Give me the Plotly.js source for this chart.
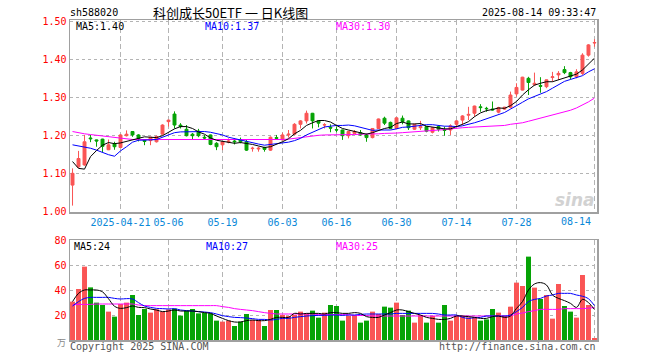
<!DOCTYPE html>
<html>
<head>
<meta charset="utf-8">
<script src="https://cdn.plot.ly/plotly-3.0.1.min.js"></script>
<style>html,body{margin:0;padding:0;background:#fff;}#chart{width:660px;height:360px;}</style>
</head>
<body>
<div id="chart"></div>
<script>
// ---- data ----
const dates = [
 '2025-04-09','2025-04-10','2025-04-11','2025-04-14','2025-04-15','2025-04-16','2025-04-17','2025-04-18',
 '2025-04-21','2025-04-22','2025-04-23','2025-04-24','2025-04-25','2025-04-28','2025-04-29','2025-04-30',
 '2025-05-06','2025-05-07','2025-05-08','2025-05-09','2025-05-12','2025-05-13','2025-05-14','2025-05-15',
 '2025-05-16','2025-05-19','2025-05-20','2025-05-21','2025-05-22','2025-05-23','2025-05-26','2025-05-27',
 '2025-05-28','2025-05-29','2025-05-30','2025-06-03','2025-06-04','2025-06-05','2025-06-06','2025-06-09',
 '2025-06-10','2025-06-11','2025-06-12','2025-06-13','2025-06-16','2025-06-17','2025-06-18','2025-06-19',
 '2025-06-20','2025-06-23','2025-06-24','2025-06-25','2025-06-26','2025-06-27','2025-06-30','2025-07-01',
 '2025-07-02','2025-07-03','2025-07-04','2025-07-07','2025-07-08','2025-07-09','2025-07-10','2025-07-11',
 '2025-07-14','2025-07-15','2025-07-16','2025-07-17','2025-07-18','2025-07-21','2025-07-22','2025-07-23',
 '2025-07-24','2025-07-25','2025-07-28','2025-07-29','2025-07-30','2025-07-31','2025-08-01','2025-08-04',
 '2025-08-05','2025-08-06','2025-08-07','2025-08-08','2025-08-11','2025-08-12','2025-08-13','2025-08-14'];

const openP = [1.070,1.118,1.123,1.194,1.189,1.191,1.163,1.178,1.169,1.200,
 1.211,1.202,1.188,1.187,1.184,1.204,1.237,1.257,1.228,1.217,
 1.204,1.212,1.196,1.202,1.180,1.176,1.183,1.186,1.189,1.184,
 1.166,1.165,1.169,1.162,1.195,1.189,1.202,1.204,1.230,1.239,
 1.259,1.239,1.228,1.222,1.216,1.215,1.200,1.206,1.208,1.202,
 1.195,1.219,1.246,1.235,1.219,1.246,1.239,1.217,1.221,1.224,
 1.209,1.224,1.216,1.215,1.230,1.241,1.254,1.259,1.276,1.272,
 1.270,1.262,1.270,1.275,1.310,1.320,1.351,1.334,1.332,1.329,
 1.353,1.360,1.374,1.366,1.355,1.364,1.412,1.444];
const highP = [1.114,1.160,1.202,1.202,1.190,1.192,1.190,1.184,1.204,1.214,
 1.212,1.204,1.191,1.197,1.200,1.230,1.242,1.264,1.233,1.228,
 1.207,1.218,1.202,1.203,1.183,1.185,1.193,1.193,1.195,1.189,
 1.171,1.171,1.171,1.198,1.202,1.208,1.215,1.233,1.241,1.266,
 1.260,1.240,1.233,1.230,1.224,1.216,1.213,1.215,1.215,1.206,
 1.220,1.245,1.250,1.237,1.248,1.253,1.240,1.231,1.239,1.225,
 1.222,1.228,1.224,1.230,1.241,1.254,1.276,1.279,1.283,1.276,
 1.290,1.276,1.276,1.316,1.338,1.355,1.355,1.366,1.354,1.348,
 1.368,1.370,1.383,1.368,1.375,1.417,1.441,1.454];
const lowP = [1.016,1.115,1.121,1.183,1.171,1.157,1.162,1.163,1.168,1.198,
 1.197,1.185,1.175,1.175,1.182,1.203,1.224,1.219,1.219,1.198,
 1.190,1.196,1.189,1.175,1.162,1.162,1.180,1.177,1.180,1.160,
 1.158,1.158,1.158,1.160,1.189,1.188,1.195,1.202,1.219,1.232,
 1.219,1.222,1.219,1.209,1.209,1.189,1.193,1.204,1.200,1.184,
 1.193,1.218,1.228,1.217,1.217,1.230,1.215,1.215,1.215,1.209,
 1.206,1.211,1.200,1.202,1.224,1.228,1.241,1.250,1.263,1.263,
 1.266,1.259,1.268,1.272,1.303,1.319,1.307,1.331,1.313,1.325,
 1.342,1.347,1.362,1.348,1.351,1.360,1.408,1.434];
const closeP = [1.101,1.140,1.184,1.192,1.186,1.172,1.176,1.171,1.202,1.204,
 1.202,1.193,1.185,1.196,1.198,1.228,1.241,1.228,1.224,1.200,
 1.200,1.200,1.194,1.177,1.171,1.184,1.186,1.184,1.184,1.162,
 1.167,1.167,1.164,1.196,1.193,1.202,1.204,1.230,1.239,1.259,
 1.239,1.233,1.229,1.220,1.215,1.200,1.211,1.211,1.202,1.195,
 1.219,1.244,1.233,1.219,1.247,1.237,1.221,1.230,1.224,1.212,
 1.221,1.217,1.214,1.226,1.239,1.252,1.256,1.278,1.274,1.271,
 1.268,1.274,1.275,1.307,1.327,1.354,1.340,1.338,1.330,1.347,
 1.355,1.364,1.366,1.355,1.368,1.412,1.439,1.445];

const ma5 = [1.132,1.114,1.112,1.145,1.161,1.175,1.182,1.179,1.181,1.185,
 1.191,1.194,1.197,1.196,1.195,1.200,1.210,1.218,1.224,1.224,
 1.219,1.210,1.204,1.194,1.188,1.185,1.182,1.180,1.182,1.180,
 1.177,1.173,1.169,1.171,1.177,1.184,1.192,1.205,1.214,1.227,
 1.234,1.240,1.240,1.236,1.227,1.219,1.215,1.211,1.208,1.204,
 1.208,1.214,1.219,1.222,1.232,1.236,1.231,1.231,1.232,1.225,
 1.222,1.221,1.218,1.218,1.223,1.230,1.237,1.250,1.260,1.266,
 1.269,1.273,1.272,1.279,1.290,1.307,1.321,1.333,1.338,1.342,
 1.342,1.347,1.352,1.357,1.362,1.373,1.388,1.404];
const ma10 = [1.176,1.173,1.171,1.167,1.162,1.155,1.150,1.146,1.160,1.171,
 1.183,1.188,1.188,1.189,1.190,1.196,1.202,1.208,1.210,1.210,
 1.210,1.210,1.211,1.209,1.206,1.202,1.196,1.192,1.188,1.184,
 1.181,1.178,1.175,1.177,1.179,1.181,1.183,1.187,1.193,1.202,
 1.209,1.216,1.223,1.225,1.227,1.227,1.228,1.226,1.222,1.216,
 1.214,1.215,1.215,1.215,1.218,1.222,1.223,1.225,1.227,1.229,
 1.229,1.226,1.225,1.225,1.224,1.226,1.229,1.234,1.239,1.245,
 1.250,1.255,1.261,1.270,1.278,1.288,1.297,1.303,1.309,1.316,
 1.325,1.334,1.343,1.348,1.352,1.358,1.368,1.376];
const ma30 = [1.211,1.207,1.205,1.203,1.201,1.199,1.197,1.195,1.193,1.191,
 1.190,1.190,1.190,1.190,1.190,1.190,1.190,1.190,1.190,1.190,
 1.190,1.190,1.190,1.189,1.189,1.189,1.189,1.189,1.189,1.189,
 1.189,1.189,1.189,1.189,1.189,1.190,1.191,1.193,1.195,1.197,
 1.200,1.201,1.202,1.202,1.203,1.203,1.203,1.203,1.204,1.204,
 1.205,1.205,1.206,1.206,1.207,1.208,1.209,1.210,1.211,1.213,
 1.214,1.215,1.216,1.218,1.220,1.221,1.222,1.223,1.224,1.224,
 1.225,1.226,1.227,1.230,1.232,1.234,1.238,1.242,1.246,1.250,
 1.254,1.258,1.262,1.267,1.273,1.280,1.289,1.299];

const volume = [30.7,40.8,58.7,42.1,29.9,28.0,22.7,18.7,28.8,29.9,
 36.0,20.0,24.8,21.9,24.5,22.7,24.5,25.1,19.5,23.5,
 24.8,21.3,21.6,21.3,15.5,14.7,15.5,11.2,14.7,20.8,
 16.0,16.0,11.2,24.0,24.0,20.0,19.2,20.0,22.7,21.3,
 23.5,17.9,21.9,28.0,27.2,15.5,19.2,20.0,13.9,15.5,
 22.7,20.8,26.7,25.9,29.9,20.0,23.5,13.9,20.0,13.9,
 19.2,13.9,28.0,15.5,19.2,19.2,18.1,18.1,15.5,16.5,
 24.8,21.9,19.2,26.7,45.9,43.2,66.7,41.9,32.8,36.0,
 17.1,44.8,27.2,22.7,17.9,52.0,28.0,1.6];
const vma5 = [30.7,37.3,40.0,40.0,40.0,38.5,33.0,27.0,25.3,25.9,
 27.2,26.1,25.9,24.8,24.0,22.7,23.2,24.0,23.2,23.2,
 23.2,22.7,21.9,21.3,19.2,17.3,15.5,14.4,14.4,15.5,
 16.0,15.5,15.5,16.5,18.1,18.1,18.1,21.3,20.8,21.3,
 21.3,21.3,20.8,21.9,21.9,21.3,21.3,21.9,21.3,18.7,
 18.1,18.1,20.0,21.9,24.0,24.0,22.7,21.3,20.0,18.1,
 17.3,16.5,16.5,17.3,19.2,19.2,18.7,18.1,17.3,17.3,
 18.7,19.2,18.1,19.2,25.3,30.7,40.0,44.8,45.9,44.0,
 36.0,33.3,31.5,29.3,26.1,32.5,29.9,24.4];
const vma10 = [27.2,30.7,33.3,34.1,34.1,34.1,34.1,33.3,32.8,33.1,
 32.8,29.9,27.2,26.1,25.3,25.1,24.8,25.1,24.0,23.5,
 23.2,22.7,22.4,21.9,20.8,19.5,18.7,18.1,17.9,17.6,
 17.1,16.5,16.5,16.0,16.5,17.3,17.3,18.1,18.7,19.2,
 19.5,19.7,19.7,20.0,20.0,19.7,20.0,20.0,20.5,20.8,
 20.8,20.8,20.8,20.8,21.3,21.3,21.3,21.3,21.3,21.3,
 21.3,20.8,20.0,20.0,20.0,18.1,17.3,17.8,18.1,19.2,
 19.2,19.2,19.2,20.0,22.7,26.1,30.7,32.5,33.3,35.2,
 36.0,37.3,37.3,37.3,36.0,35.0,33.0,27.5];
const vma30 = [28.0,28.5,28.5,28.5,28.8,28.8,28.8,28.8,28.8,28.8,
 28.8,28.0,27.5,27.5,27.5,27.5,27.5,27.5,27.5,27.5,
 27.5,27.5,27.5,27.5,27.5,26.7,26.1,25.1,24.5,24.0,
 23.5,22.7,21.9,21.3,20.8,20.8,20.8,20.8,20.8,20.8,
 20.8,20.3,20.3,20.3,20.3,20.3,20.3,19.6,19.6,19.6,
 19.2,19.2,19.2,19.2,19.2,19.2,19.2,19.2,19.2,19.2,
 19.2,19.2,19.2,19.2,19.2,19.2,19.2,19.2,19.2,19.2,
 19.2,19.2,19.2,19.2,20.8,21.6,22.7,23.5,24.5,24.5,
 24.5,24.5,25.1,25.1,25.1,25.1,25.5,25.9];

const tickDates = ['2025-04-21','2025-05-06','2025-05-19','2025-06-03','2025-06-16','2025-06-30','2025-07-14','2025-07-28','2025-08-14'];
const tickLabels = ['2025-04-21','05-06','05-19','06-03','06-16','06-30','07-14','07-28',''];
const lastTickLabel = '08-14';
const priceTicks = [1.00,1.10,1.20,1.30,1.40,1.50];
const volTicks = [20,40,60,80];

const code = 'sh588020';
const titleText = '科创成长50ETF 一 日K线图';
const timeText = '2025-08-14 09:33:47';
const priceMaLabels = ['MA5:1.40','MA10:1.37','MA30:1.30'];
const volMaLabels = ['MA5:24','MA10:27','MA30:25'];

// ---- styles ----
const RED = '#fa5555', GREEN = '#06a306';
const MA_COLORS = ['#000000','#0000ff','#ff00ff'];
const MONO = 'DejaVu Sans Mono';
const GRIDC = '#b4b4b4', FRAME = '#a0a0a0';

const volColors = closeP.map((c, i) => c >= openP[i] ? RED : GREEN);

const traces = [
  {type:'candlestick', x:dates, open:openP, high:highP, low:lowP, close:closeP,
   xaxis:'x', yaxis:'y', hoverinfo:'skip', whiskerwidth:0,
   increasing:{line:{color:RED, width:1}, fillcolor:RED},
   decreasing:{line:{color:GREEN, width:1}, fillcolor:GREEN}},
  {type:'scatter', mode:'lines', x:dates, y:ma30, xaxis:'x', yaxis:'y', line:{color:MA_COLORS[2], width:1}, hoverinfo:'skip'},
  {type:'scatter', mode:'lines', x:dates, y:ma10, xaxis:'x', yaxis:'y', line:{color:MA_COLORS[1], width:1}, hoverinfo:'skip'},
  {type:'scatter', mode:'lines', x:dates, y:ma5, xaxis:'x', yaxis:'y', line:{color:MA_COLORS[0], width:1}, hoverinfo:'skip'},
  {type:'bar', x:dates, y:volume, xaxis:'x2', yaxis:'y2', marker:{color:volColors, line:{width:0}}, hoverinfo:'skip'},
  {type:'scatter', mode:'lines', x:dates, y:vma30, xaxis:'x2', yaxis:'y2', line:{color:MA_COLORS[2], width:1, shape:'spline'}, hoverinfo:'skip'},
  {type:'scatter', mode:'lines', x:dates, y:vma10, xaxis:'x2', yaxis:'y2', line:{color:MA_COLORS[1], width:1, shape:'spline'}, hoverinfo:'skip'},
  {type:'scatter', mode:'lines', x:dates, y:vma5, xaxis:'x2', yaxis:'y2', line:{color:MA_COLORS[0], width:1, shape:'spline'}, hoverinfo:'skip'}
];

const L = 70, R = 597, T = 20, B = 340;
const px = v => (v - L) / (R - L);
const py = v => (B - v) / (B - T);

function ann(text, x, y, xanchor, color, size, extra) {
  return Object.assign({text:text, x:x, y:y, xref:'paper', yref:'paper', xanchor:xanchor, yanchor:'middle',
    showarrow:false, font:{family:MONO, size:size || 10, color:color || '#000'}, borderpad:0}, extra || {});
}

const annotations = [
  ann(code, px(69), py(13), 'left', '#000', 10),
  ann(titleText, px(230), py(12), 'center', '#000', 13, {font:{family:'Noto Sans CJK SC', size:13, color:'#000'}}),
  ann(timeText, px(597), py(13), 'right', '#000', 10),
  ann(priceMaLabels[0], px(75), py(26), 'left', MA_COLORS[0], 10),
  ann(priceMaLabels[1], px(204), py(26), 'left', MA_COLORS[1], 10),
  ann(priceMaLabels[2], px(335), py(26), 'left', MA_COLORS[2], 10),
  ann(volMaLabels[0], px(73), py(246.5), 'left', MA_COLORS[0], 10),
  ann(volMaLabels[1], px(205), py(246.5), 'left', MA_COLORS[1], 10),
  ann(volMaLabels[2], px(335), py(246.5), 'left', MA_COLORS[2], 10),
  ann(lastTickLabel, px(592), py(221.5), 'right', '#0a88d8', 10),
  ann('Copyright 2025 SINA.COM', px(69), py(346), 'left', '#555', 10),
  ann('http://finance.sina.com.cn', px(597), py(346), 'right', '#555', 10),
  ann('万', px(67), py(342), 'right', '#777', 9, {font:{family:'Noto Sans CJK SC', size:9, color:'#888'}}),
  ann('sina', px(596), py(200), 'right', '#cfcfcf', 17, {font:{family:'DejaVu Sans', size:17, color:'#d2d2d2', weight:700, style:'italic'}})
];

const axisCommon = {showline:true, mirror:true, linecolor:FRAME, linewidth:1.5, zeroline:false, fixedrange:true, ticks:''};

const layout = {
  width:660, height:360, margin:{l:L, r:660-R, t:T, b:360-B, pad:0},
  paper_bgcolor:'#fff', plot_bgcolor:'#fff', showlegend:false, hovermode:false,
  font:{family:MONO, size:10, color:'#000'},
  bargap:0.17, boxgap:0.3,
  xaxis: Object.assign({}, axisCommon, {type:'category', anchor:'y', domain:[0,1], range:[-0.42, 87.42],
    tickmode:'array', tickvals:tickDates, ticktext:tickLabels, showgrid:true, gridcolor:GRIDC, gridwidth:1, griddash:'5px,3px',
    tickfont:{family:MONO, size:10, color:'#0a88d8'}, rangeslider:{visible:false}}),
  yaxis: Object.assign({}, axisCommon, {anchor:'x', domain:[py(212), 1], range:[1 + (211.7-212)/380, 1 + (211.7-20)/380],
    tickmode:'array', tickvals:priceTicks, tickformat:'.2f', showgrid:true, gridcolor:GRIDC, gridwidth:1, griddash:'dot',
    tickfont:{family:MONO, size:10, color:'#ff0000'}}),
  xaxis2: Object.assign({}, axisCommon, {type:'category', anchor:'y2', matches:'x', domain:[0,1],
    tickmode:'array', tickvals:tickDates, showticklabels:false, showgrid:true, gridcolor:GRIDC, gridwidth:1, griddash:'5px,3px'}),
  yaxis2: Object.assign({}, axisCommon, {anchor:'x2', domain:[0, py(240)], range:[0, 80],
    tickmode:'array', tickvals:volTicks, showgrid:true, gridcolor:GRIDC, gridwidth:1, griddash:'dot',
    tickfont:{family:MONO, size:10, color:'#ff0000'}}),
  annotations: annotations
};

Plotly.newPlot('chart', traces, layout, {staticPlot:true, displayModeBar:false});
</script>
</body>
</html>
